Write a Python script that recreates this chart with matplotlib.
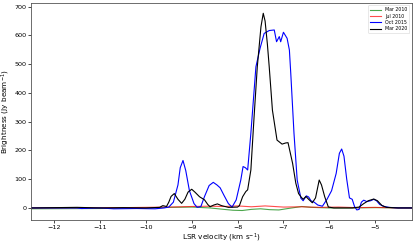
import matplotlib
matplotlib.use("Agg")
import matplotlib.pyplot as plt

# Mar 2010 (green)
v_mar2010 = [-12.5, -11.0, -10.0, -9.5, -9.0, -8.6, -8.3, -8.1, -7.9, -7.7, -7.5, -7.3, -7.1, -6.9, -6.6, -6.4, -6.0, -5.5, -5.0, -4.2]
b_mar2010 = [-3, -2, 0, 2, 3, 0, -5, -8, -9, -5, -3, -6, -7, -2, 5, 2, 0, 0, 1, 0]

# Jul 2010 (red)
v_jul2010 = [-12.5, -10.5, -9.5, -9.0, -8.6, -8.3, -8.0, -7.7, -7.4, -7.0, -6.6, -6.2, -5.8, -5.4, -5.0, -4.5, -4.2]
b_jul2010 = [0, 1, 3, 5, 6, 5, 7, 4, 7, 3, 4, 2, 3, 1, 2, 0, 0]

# Oct 2015 (blue)
v_oct2015 = [-12.5, -11.5, -11.4, -11.0, -10.7, -10.2, -9.8, -9.6, -9.5, -9.4, -9.3, -9.25, -9.19,
             -9.13, -9.05, -8.95, -8.88, -8.8, -8.72, -8.62, -8.53, -8.45, -8.38, -8.3, -8.2,
             -8.12, -8.03, -7.93, -7.88, -7.83, -7.78, -7.71, -7.6, -7.51, -7.42, -7.31, -7.2,
             -7.15, -7.09, -7.06, -7.0, -6.92, -6.87, -6.84, -6.77, -6.7, -6.62, -6.57, -6.5,
             -6.45, -6.4, -6.33, -6.25, -6.15, -6.05, -5.95, -5.85, -5.78, -5.73, -5.68, -5.62,
             -5.56, -5.5, -5.45, -5.4, -5.35, -5.3, -5.25, -5.18, -5.1, -5.03, -4.97, -4.9,
             -4.8, -4.7, -4.5, -4.2]
b_oct2015 = [0, 0, -2, 0, -3, -2, -3, 0, 3, 20, 80, 140, 165,
             130, 60, 15, 2, 5, 40, 78, 89, 80, 70, 45, 15,
             3, 28, 97, 144, 140, 132, 260, 491, 555, 607, 617, 619,
             578, 596, 578, 611, 590, 549, 468, 260, 97, 34, 25, 42,
             38, 25, 20, 10, 6, 30, 60, 120, 190, 205, 180, 100,
             35, 30, 5, -7, -5, 20, 27, 22, 25, 30, 25, 12,
             5, 2, 0, 0]

# Mar 2020 (black)
v_mar2020 = [-12.5, -11.5, -11.0, -10.5, -10.0, -9.7, -9.63, -9.55, -9.5, -9.45, -9.38, -9.3, -9.22,
             -9.15, -9.08, -9.0, -8.93, -8.83, -8.72, -8.65, -8.6, -8.52, -8.44, -8.35, -8.2,
             -8.0, -7.96, -7.89, -7.82, -7.78, -7.71, -7.64, -7.57, -7.49, -7.44, -7.4, -7.35,
             -7.31, -7.24, -7.14, -7.03, -6.95, -6.9, -6.8, -6.73, -6.67, -6.62, -6.57, -6.51,
             -6.45, -6.37, -6.3, -6.22, -6.17, -6.1, -6.02, -5.9, -5.5, -5.35, -5.25, -5.15,
             -5.03, -4.95, -4.85, -4.75, -4.5, -4.2]
b_mar2020 = [0, 2, 0, 1, 0, 2, 8, 5, 20, 40, 50, 30, 16,
             30, 55, 65, 55, 39, 28, 12, 4, 10, 14, 8, 2,
             3, 8, 39, 57, 63, 132, 317, 491, 630, 677, 650, 570,
             491, 340, 236, 222, 226, 227, 155, 86, 50, 39, 30, 40,
             30, 18, 35, 97, 80, 39, 3, 0, 0, 3, 15, 25,
             31, 25, 8, 2, 0, 0]

labels = ["Mar 2010", "Jul 2010", "Oct 2015", "Mar 2020"]
colors = ["green", "red", "blue", "black"]

fig = plt.figure(figsize=(4.16, 2.45), dpi=100)
ax = fig.add_axes([0.075, 0.102, 0.915, 0.886])

series = [(v_mar2010, b_mar2010), (v_jul2010, b_jul2010), (v_oct2015, b_oct2015), (v_mar2020, b_mar2020)]
alphas = [0.7, 0.7, 1.0, 1.0]
for (v, b), lab, c, a in zip(series, labels, colors, alphas):
    ax.plot(v, b, color=c, lw=0.8, label=lab, alpha=a)

ax.set_xlim(-12.5, -4.2)
ax.set_ylim(-42, 713)
ax.set_xticks([-12, -11, -10, -9, -8, -7, -6, -5])
ax.set_xticklabels(["\u221212", "\u221211", "\u221210", "\u22129", "\u22128", "\u22127", "\u22126", "\u22125"])
ax.set_yticks([0, 100, 200, 300, 400, 500, 600, 700])
ax.tick_params(labelsize=4.6, length=2, width=0.5, pad=1.5)
for s in ax.spines.values():
    s.set_linewidth(0.6)
    s.set_color("#555555")
ax.set_xlabel("LSR velocity (km s$^{-1}$)", fontsize=5.2, labelpad=1.5)
ax.set_ylabel("Brightness (Jy beam$^{-1}$)", fontsize=5.2, labelpad=1.5)
leg = ax.legend(loc="upper right", fontsize=3.4, frameon=True, handlelength=2.5,
                borderpad=0.4, labelspacing=0.3, fancybox=True)
leg.get_frame().set_linewidth(0.4)

fig.savefig("out.png", dpi=100)
